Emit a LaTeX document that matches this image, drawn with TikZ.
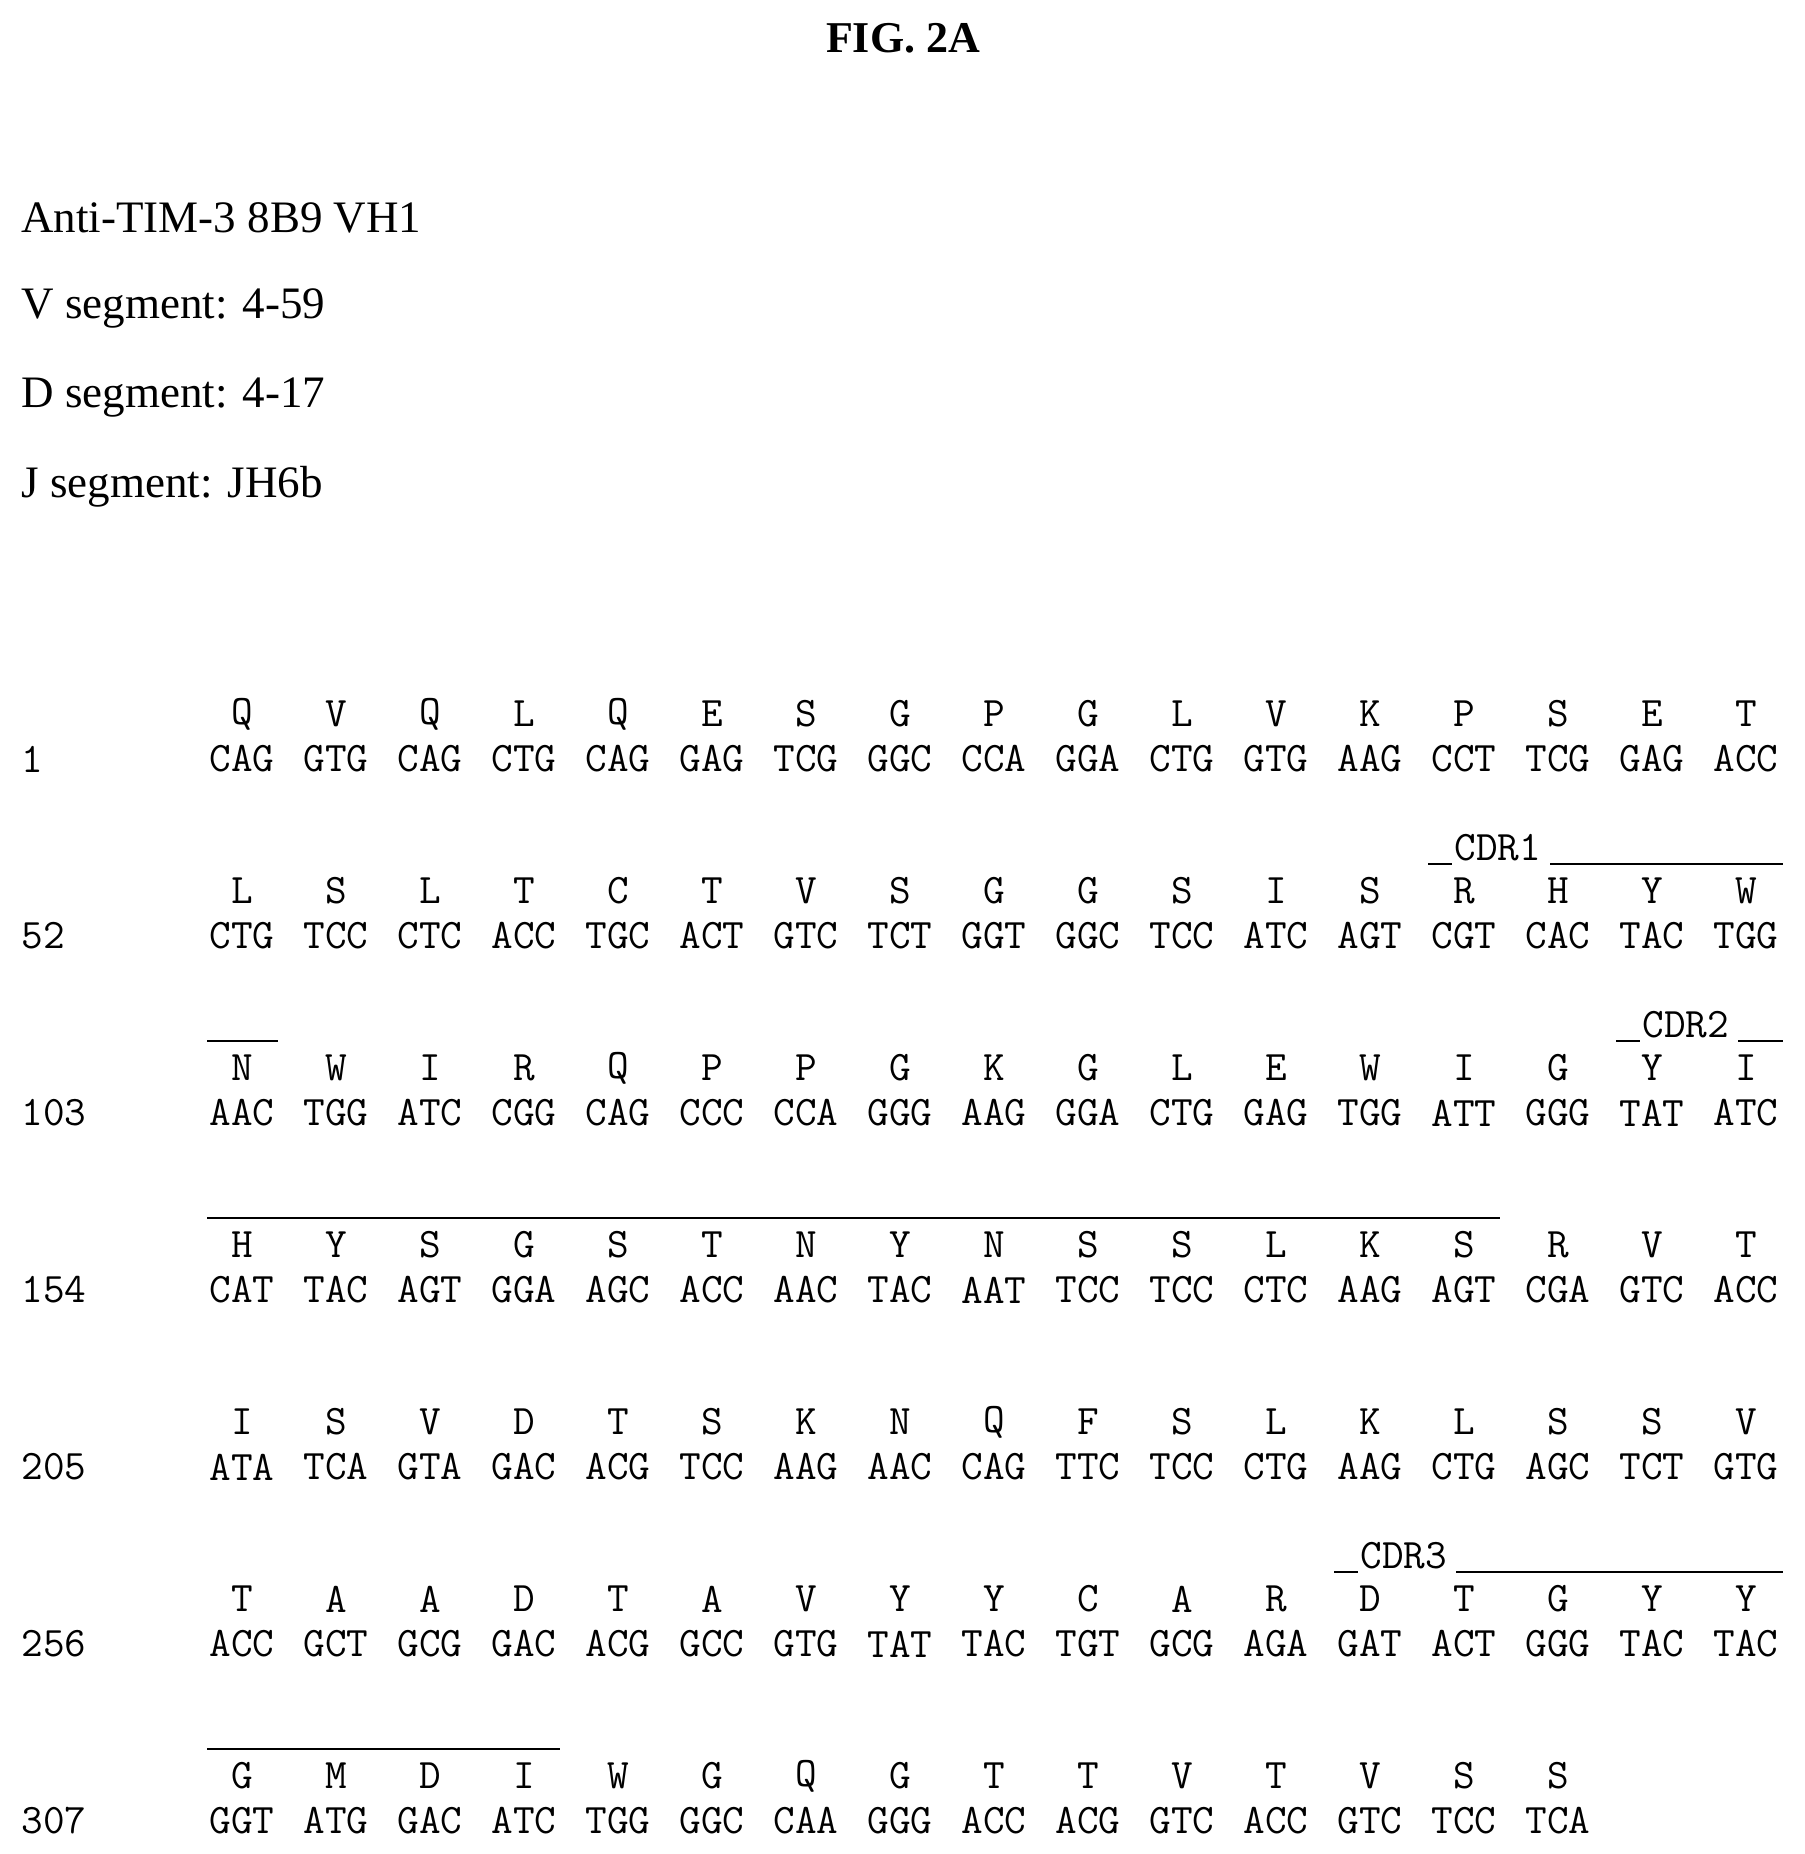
\documentclass[tikz,border=0pt]{standalone}
\usepackage{fontspec}
\setmainfont{Liberation Serif}
\newcommand\seqrow[4]{%
  \node[num] (n#1) at (21,{759+177*#1}) {#2};
  \foreach \aa [count=\i from 0] in {#3} {\node[seq] (a#1-\i) at ({242+94*\i},{714+177*#1}) {\aa};}
  \foreach \cd [count=\i from 0] in {#4} {\node[seq] (c#1-\i) at ({242+94*\i},{759+177*#1}) {\cd};}
}
\newcommand\cdrlab[3]{%
  \draw[cdr] ({242+94*#2-36},{710+177*#1-23}) -- ({242+94*#2-12},{710+177*#1-23});
  \node[seq,anchor=west,inner sep=0pt] (l#3) at ({242+94*#2-10},{714+177*#1-43}) {#3};
  \draw[cdr] ({242+94*#2+86},{710+177*#1-23}) -- ({242+94*16+37},{710+177*#1-23});
}
\newcommand\cdrline[3]{%
  \draw[cdr] ({242+94*#2-35},{710+177*#1-23}) -- ({242+94*#3+36},{710+177*#1-23});
}
\begin{document}
\begin{tikzpicture}[x=0.5pt,y=-0.5pt,
  seq/.style={font=\ttfamily\fontsize{21}{21}\selectfont,inner sep=0pt},
  num/.style={seq,anchor=west},
  hdr/.style={font=\fontsize{22.5}{22.5}\selectfont,anchor=west,inner sep=0pt},
  cdr/.style={line width=1.4pt}]
\useasboundingbox (0,0) rectangle (1805,1854);
\fill[white] (0,0) rectangle (1805,1854);
\node[font=\bfseries\fontsize{22}{22}\selectfont,inner sep=0pt] (title) at (903,38) {FIG. 2A};
\node[hdr] (h1) at (21,218) {Anti-TIM-3 8B9 VH1};
\node[hdr] (h2) at (21,308) {V segment: 4-59};
\node[hdr] (h3) at (21,397) {D segment: 4-17};
\node[hdr] (h4) at (21,487) {J segment: JH6b};
\seqrow{0}{1}{Q,V,Q,L,Q,E,S,G,P,G,L,V,K,P,S,E,T}{CAG,GTG,CAG,CTG,CAG,GAG,TCG,GGC,CCA,GGA,CTG,GTG,AAG,CCT,TCG,GAG,ACC}
\seqrow{1}{52}{L,S,L,T,C,T,V,S,G,G,S,I,S,R,H,Y,W}{CTG,TCC,CTC,ACC,TGC,ACT,GTC,TCT,GGT,GGC,TCC,ATC,AGT,CGT,CAC,TAC,TGG}
\seqrow{2}{103}{N,W,I,R,Q,P,P,G,K,G,L,E,W,I,G,Y,I}{AAC,TGG,ATC,CGG,CAG,CCC,CCA,GGG,AAG,GGA,CTG,GAG,TGG,ATT,GGG,TAT,ATC}
\seqrow{3}{154}{H,Y,S,G,S,T,N,Y,N,S,S,L,K,S,R,V,T}{CAT,TAC,AGT,GGA,AGC,ACC,AAC,TAC,AAT,TCC,TCC,CTC,AAG,AGT,CGA,GTC,ACC}
\seqrow{4}{205}{I,S,V,D,T,S,K,N,Q,F,S,L,K,L,S,S,V}{ATA,TCA,GTA,GAC,ACG,TCC,AAG,AAC,CAG,TTC,TCC,CTG,AAG,CTG,AGC,TCT,GTG}
\seqrow{5}{256}{T,A,A,D,T,A,V,Y,Y,C,A,R,D,T,G,Y,Y}{ACC,GCT,GCG,GAC,ACG,GCC,GTG,TAT,TAC,TGT,GCG,AGA,GAT,ACT,GGG,TAC,TAC}
\seqrow{6}{307}{G,M,D,I,W,G,Q,G,T,T,V,T,V,S,S}{GGT,ATG,GAC,ATC,TGG,GGC,CAA,GGG,ACC,ACG,GTC,ACC,GTC,TCC,TCA}
\cdrlab{1}{13}{CDR1}
\cdrline{2}{0}{0}
\cdrlab{2}{15}{CDR2}
\cdrline{3}{0}{13}
\cdrlab{5}{12}{CDR3}
\cdrline{6}{0}{3}
\end{tikzpicture}
\end{document}
